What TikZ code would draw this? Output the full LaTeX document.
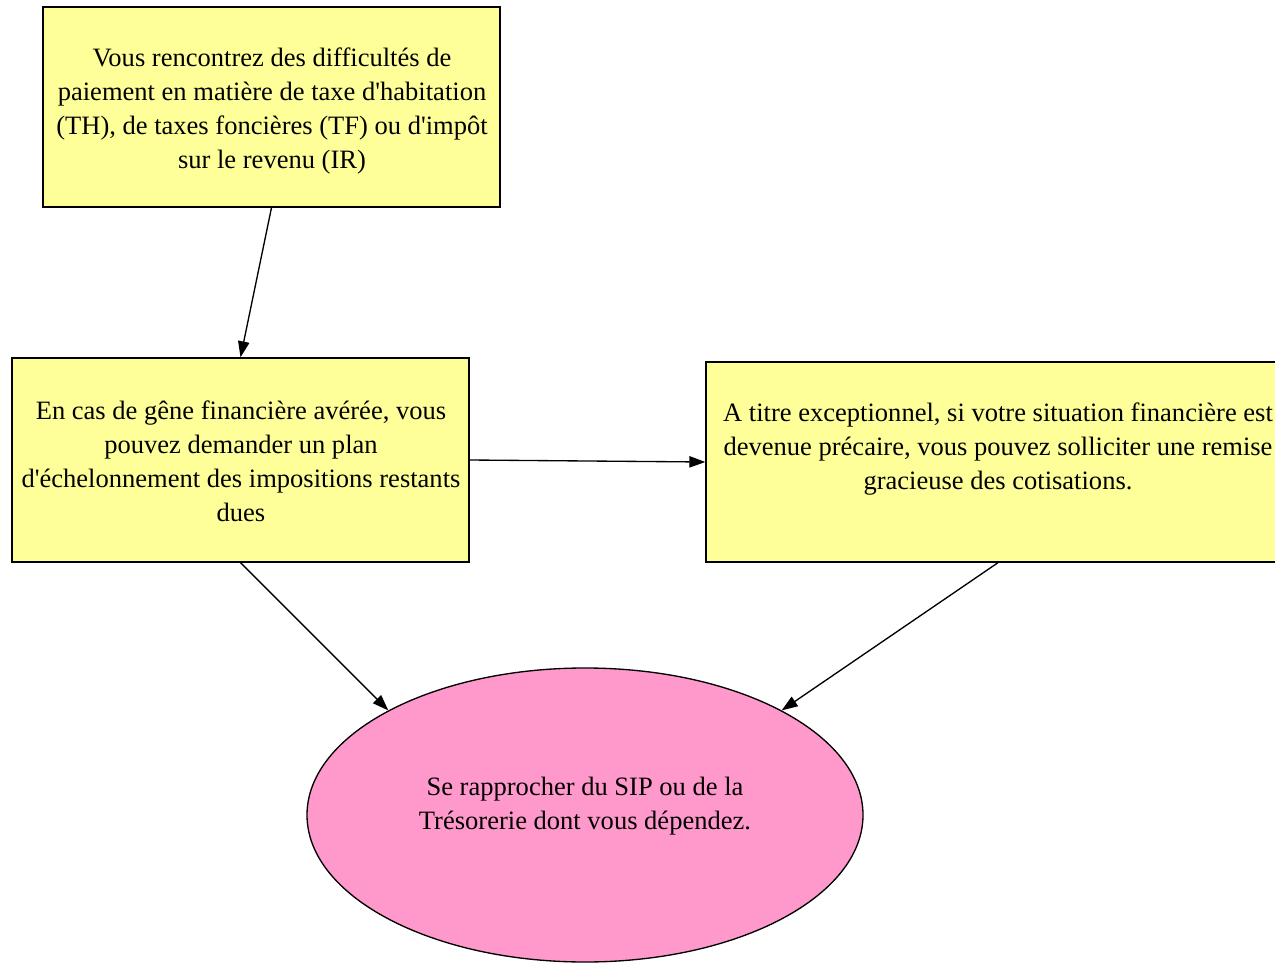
\documentclass[tikz,border=0pt]{standalone}
\usepackage{fontspec}
\setmainfont{Liberation Serif}
\usetikzlibrary{shapes.geometric,arrows.meta}
\definecolor{boxyellow}{HTML}{FFFF99}
\definecolor{ellpink}{HTML}{FF99CC}
\newcommand{\apos}{\textquotesingle}
\begin{document}
\begin{tikzpicture}[x=0.75pt,y=-0.75pt,
  box/.style={draw=black,fill=boxyellow,line width=1pt,rectangle,inner sep=0pt},
  ell/.style={draw=black,fill=ellpink,line width=1pt,ellipse,inner sep=0pt},
  txt/.style={align=center,inner sep=0pt,font=\fontsize{19.9pt}{25.5pt}\selectfont},
  conn/.style={line width=1pt,-{Triangle[length=12pt,width=8.5pt]}}]
\useasboundingbox (0,0) rectangle (1275,963);
\node[box,minimum width=342.75pt,minimum height=150pt] (b1) at (271.5,107) {};
\node[txt] (t1) at (272,111) {Vous rencontrez des difficultés de\\paiement en matière de taxe d\apos{}habitation\\(TH), de taxes foncières (TF) ou d\apos{}impôt\\sur le revenu (IR)};
\node[box,minimum width=342.75pt,minimum height=153pt] (b2) at (240.5,460) {};
\node[txt] (t2) at (241,461) {En cas de gêne financière avérée, vous\\pouvez demander un plan\\d\apos{}échelonnement des impositions restants\\dues};
\node[box,minimum width=438pt,minimum height=150pt] (b3) at (998,462) {};
\node[txt] (t3) at (998,449) {A titre exceptionnel, si votre situation financière est\\devenue précaire, vous pouvez solliciter une remise\\gracieuse des cotisations.};
\node[ell,minimum width=417pt,minimum height=220.5pt] (e) at (585,815) {};
\node[txt] (t4) at (585,806) {Se rapprocher du SIP ou de la\\Trésorerie dont vous dépendez.};
\draw[conn] (b1.south) -- (b2.north);
\draw[conn] (b2.east) -- (b3.west);
\draw[conn] (b2.south) -- (e.152);
\draw[conn] (b3.south) -- (e.28);
\end{tikzpicture}
\end{document}
